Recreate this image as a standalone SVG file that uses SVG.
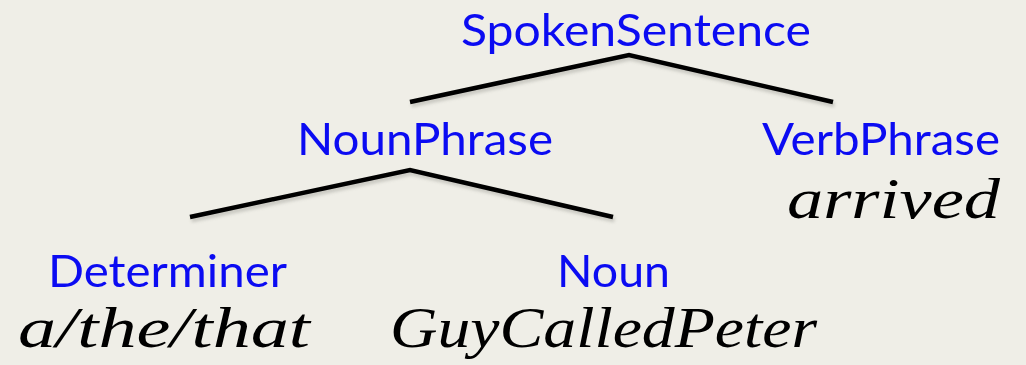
<svg xmlns="http://www.w3.org/2000/svg" width="1026" height="365" viewBox="0 0 1026 365">
  <defs>
    <style>
      .label { font-family: Lato, "Open Sans", "Liberation Sans", sans-serif; font-size: 45px; fill: #0b0bf2; }
      .word { font-family: "Liberation Serif", "DejaVu Serif", serif; font-style: italic; font-size: 56px; fill: #000000; }
      .edge { stroke: #000000; stroke-width: 4.5; fill: none; stroke-linejoin: miter; stroke-linecap: butt; }
      .edge-shadow { stroke: #8a8a80; stroke-width: 5; fill: none; opacity: 0.35; }
    </style>
    <filter id="soft" x="-5%" y="-50%" width="110%" height="200%">
      <feGaussianBlur stdDeviation="1.5"/>
    </filter>
  </defs>

  <rect x="0" y="0" width="1026" height="365" fill="#efeee7"/>

  <!-- branches of the parse tree -->
  <g id="connectors">
    <g filter="url(#soft)" transform="translate(1.5,3)">
      <polyline class="edge-shadow" points="410,102 629,55 833,102"/>
      <polyline class="edge-shadow" points="190,217 410,170 613,217"/>
    </g>
    <polyline class="edge" points="410,102 629,55 833,102"/>
    <polyline class="edge" points="190,217 410,170 613,217"/>
  </g>

  <g id="spoken-sentence">
    <text class="label" x="461" y="46" textLength="350" lengthAdjust="spacingAndGlyphs">SpokenSentence</text>
  </g>

  <g id="noun-phrase">
    <text class="label" x="297" y="155" textLength="256" lengthAdjust="spacingAndGlyphs">NounPhrase</text>
  </g>

  <g id="verb-phrase">
    <text class="label" x="762" y="155" textLength="238" lengthAdjust="spacingAndGlyphs">VerbPhrase</text>
    <text class="word" x="787" y="218" textLength="213" lengthAdjust="spacingAndGlyphs">arrived</text>
  </g>

  <g id="determiner">
    <text class="label" x="48" y="287" textLength="239" lengthAdjust="spacingAndGlyphs">Determiner</text>
    <text class="word" x="18" y="347" textLength="292" lengthAdjust="spacingAndGlyphs">a/the/that</text>
  </g>

  <g id="noun">
    <text class="label" x="557" y="287" textLength="113" lengthAdjust="spacingAndGlyphs">Noun</text>
    <text class="word" x="390" y="347" textLength="427" lengthAdjust="spacingAndGlyphs">GuyCalledPeter</text>
  </g>
</svg>
